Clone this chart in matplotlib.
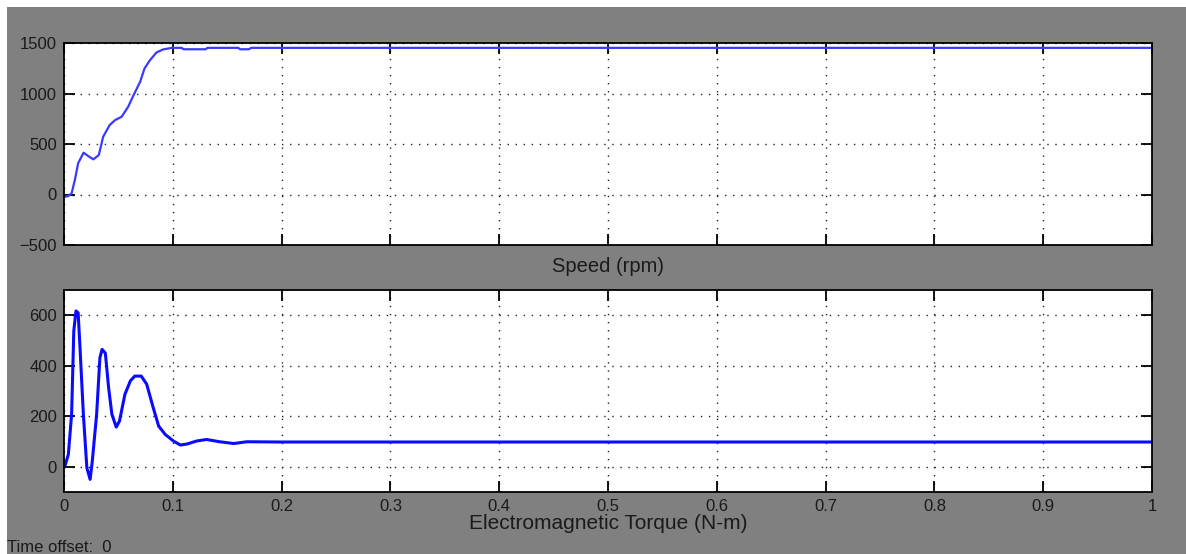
import numpy as np
import matplotlib.pyplot as plt
from matplotlib.patches import Rectangle

# 回転速度 [rpm]
speed_t = [0.0, 0.001, 0.004, 0.007, 0.010, 0.013, 0.018, 0.023, 0.027, 0.032, 0.036,
           0.042, 0.047, 0.053, 0.059, 0.064, 0.070, 0.074, 0.079, 0.085, 0.091,
           0.099, 0.108, 0.110, 0.130, 0.132, 0.160, 0.162, 0.170, 0.172, 0.2, 1.0]
speed_v = [-20, -22, -15, 12, 145, 310, 414, 375, 348, 391, 572,
           688, 737, 770, 869, 985, 1116, 1248, 1330, 1406, 1436,
           1452, 1452, 1438, 1438, 1452, 1452, 1438, 1438, 1452, 1452, 1452]

# 電磁トルク [N-m]
torque_t = [0.0, 0.001, 0.004, 0.007, 0.009, 0.011, 0.013, 0.0147, 0.0178, 0.021, 0.024,
            0.026, 0.030, 0.033, 0.035, 0.038, 0.041, 0.044, 0.048, 0.051, 0.056,
            0.061, 0.065, 0.071, 0.076, 0.082, 0.087, 0.093, 0.1005, 0.107, 0.113,
            0.122, 0.131, 0.143, 0.156, 0.168, 0.2, 1.0]
torque_v = [0, 5, 49, 208, 538, 617, 610, 472, 208, -4, -50,
            22, 208, 432, 465, 450, 313, 208, 157, 181, 287,
            340, 359, 359, 327, 234, 161, 128, 102, 86, 90,
            102, 108, 99, 92, 99, 98, 98]

x_ticks = [0, 0.1, 0.2, 0.3, 0.4, 0.5, 0.6, 0.7, 0.8, 0.9, 1]
x_ticklabels = ['0', '0.1', '0.2', '0.3', '0.4', '0.5', '0.6', '0.7', '0.8', '0.9', '1']
speed_yticks = [-500, 0, 500, 1000, 1500]
torque_yticks = [0, 200, 400, 600]

plt.rcParams['font.family'] = ['Liberation Sans', 'DejaVu Sans']
TXT = '#1a1a1a'

W, H = 1186, 554
fig = plt.figure(figsize=(W / 100, H / 100), dpi=100, facecolor='white')
# Simulink スコープ風の灰色背景 (軸より下に描く)
fig.patches.append(Rectangle((7 / W, 0), 1, (H - 7) / H, transform=fig.transFigure,
                             facecolor='#808080', edgecolor='none', zorder=-10))

left, width, height = 64 / W, 1088 / W, 202 / H
ax1 = fig.add_axes([left, (H - 245) / H, width, height])
ax2 = fig.add_axes([left, (H - 492) / H, width, height])


def style(ax, yticks, ylim):
    ax.set_facecolor('white')
    ax.set_xlim(0, 1)
    ax.set_ylim(*ylim)
    ax.set_xticks(x_ticks)
    ax.set_yticks(yticks)
    ax.grid(True, color='#222222', linestyle=(0, (1, 4.8)), linewidth=1.0)
    ax.tick_params(direction='in', length=8, width=1.3, top=True, right=True,
                   labelsize=12, colors='black', labelcolor=TXT, pad=5)
    for s in ax.spines.values():
        s.set_linewidth(1.3)
        s.set_color('black')


style(ax1, speed_yticks, (-500, 1500))
ax1.plot(speed_t, speed_v, color='#3a3aff', linewidth=1.6)
ax1.set_xticklabels([])
ax1.set_xlabel('Speed (rpm)', fontsize=14.5, color=TXT)
ax1.xaxis.set_label_coords(0.5, -0.06)

style(ax2, torque_yticks, (-100, 700))
ax2.plot(torque_t, torque_v, color='#0a0aff', linewidth=2.2)
ax2.set_xticklabels(x_ticklabels)
ax2.set_xlabel('Electromagnetic Torque (N-m)', fontsize=15, color=TXT)
ax2.xaxis.set_label_coords(0.5, -0.11)

fig.text(7 / W, (H - 547) / H, 'Time offset:  0', fontsize=12, color=TXT,
         ha='left', va='center')

fig.savefig('out.png', dpi=100, facecolor='white')
